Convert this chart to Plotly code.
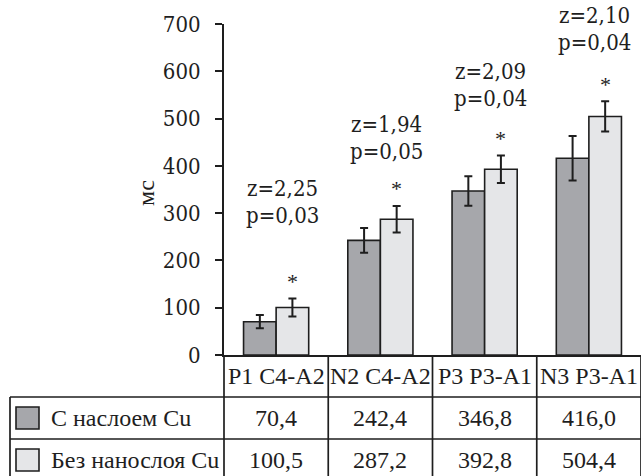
import plotly.graph_objects as go

# --- data -------------------------------------------------------------
categories = ["P1 C4-A2", "N2 C4-A2", "P3 P3-A1", "N3 P3-A1"]
series_names = ["С наслоем Cu", "Без нанослоя Cu"]
with_layer = [70.4, 242.4, 346.8, 416.0]
with_layer_err = [14, 26, 31, 47]
without_layer = [100.5, 287.2, 392.8, 504.4]
without_layer_err = [19, 28, 29, 32]
z_values = [2.25, 1.94, 2.09, 2.10]
p_values = [0.03, 0.05, 0.04, 0.04]
y_ticks = [0, 100, 200, 300, 400, 500, 600, 700]
y_title = "мс"

# --- styling / layout constants --------------------------------------
W, H = 641, 476
L, R, T, B = 224, 0, 24, 121
PW, PH = W - L - R, H - T - B
Y_MAX = 700
INK = "#1e1e1e"
DARK = "#a6a7ab"
LIGHT = "#e5e6e8"
SERIF = "Liberation Serif"
WIDE_SERIF = "DejaVu Serif Condensed"
BARGAP = 0.375
ROW_H = 42
TABLE_LEFT = 10
note_heights = [353, 488, 599, 717]   # y (axis units) of the z= line per group
note_gap = 57                          # distance from z= line to p= line


def fx(px):
    """pixel x -> paper x"""
    return (px - L) / PW


def fy(py):
    """pixel y -> paper y"""
    return (H - B - py) / PH


def comma(v, nd):
    return f"{v:.{nd}f}".replace(".", ",")


n = len(categories)
xs = list(range(n))

fig = go.Figure()
for name, vals, errs, col in [
    (series_names[0], with_layer, with_layer_err, DARK),
    (series_names[1], without_layer, without_layer_err, LIGHT),
]:
    fig.add_trace(go.Bar(
        x=xs, y=vals, name=name,
        marker=dict(color=col, line=dict(color=INK, width=1.6)),
        error_y=dict(type="data", array=errs, visible=True,
                     color=INK, thickness=2, width=4),
    ))

# statistics above each group and significance marks above light bars
bar_w = (1 - BARGAP) / 2
for i in range(n):
    for text, h in ((f"z={comma(z_values[i], 2)}", note_heights[i]),
                    (f"p={comma(p_values[i], 2)}", note_heights[i] - note_gap)):
        fig.add_annotation(
            x=i, y=h / Y_MAX, xref="x", yref="paper", xshift=6,
            text=text, showarrow=False,
            font=dict(family=WIDE_SERIF, size=22, color=INK),
            xanchor="center", yanchor="middle")
    fig.add_annotation(
        x=i + bar_w / 2, y=without_layer[i] + without_layer_err[i],
        xref="x", yref="y", yshift=17,
        text="*", showarrow=False,
        font=dict(family=SERIF, size=22, color=INK),
        xanchor="center", yanchor="middle")

# y-axis title
fig.add_annotation(
    x=fx(146), y=fy(193), xref="paper", yref="paper", text=y_title,
    textangle=-90, showarrow=False, xanchor="center", yanchor="middle",
    font=dict(family=SERIF, size=24, color=INK))

# --- data table below the chart --------------------------------------
top = H - B
line = dict(color=INK, width=1.7)
col_edges = [fx(L) + i / n for i in range(n + 1)]
table_bottom = fy(top + 3 * ROW_H + 6)

# vertical borders of the category columns
for cx in col_edges:
    fig.add_shape(type="line", xref="paper", yref="paper",
                  x0=cx, x1=cx, y0=0, y1=table_bottom, line=line)
# left border of the series rows
fig.add_shape(type="line", xref="paper", yref="paper",
              x0=fx(TABLE_LEFT), x1=fx(TABLE_LEFT),
              y0=fy(top + ROW_H), y1=table_bottom, line=line)
# horizontal borders
for k in (1, 2):
    yk = fy(top + k * ROW_H)
    fig.add_shape(type="line", xref="paper", yref="paper",
                  x0=fx(TABLE_LEFT), x1=1, y0=yk, y1=yk, line=line)

# header: category names
for i, c in enumerate(categories):
    fig.add_annotation(
        x=i, y=fy(top + ROW_H / 2), xref="x", yref="paper", text=c,
        showarrow=False, xanchor="center", yanchor="middle",
        font=dict(family=SERIF, size=24, color=INK))

# series rows
rows = [(series_names[0], with_layer, DARK),
        (series_names[1], without_layer, LIGHT)]
for r, (name, vals, col) in enumerate(rows):
    cy = top + ROW_H * (r + 1) + ROW_H / 2
    fig.add_shape(type="rect", xref="paper", yref="paper",
                  x0=fx(16), x1=fx(39), y0=fy(cy - 11), y1=fy(cy + 11),
                  fillcolor=col, line=dict(color=INK, width=1.6))
    fig.add_annotation(
        x=fx(49), y=fy(cy), xref="paper", yref="paper", text=name,
        showarrow=False, xanchor="left", yanchor="middle",
        font=dict(family=SERIF, size=24, color=INK))
    for i, v in enumerate(vals):
        fig.add_annotation(
            x=i, y=fy(cy), xref="x", yref="paper", text=comma(v, 1),
            showarrow=False, xanchor="center", yanchor="middle",
            font=dict(family=SERIF, size=24, color=INK))

fig.update_layout(
    width=W, height=H,
    margin=dict(l=L, r=R, t=T, b=B, pad=0),
    paper_bgcolor="white", plot_bgcolor="white",
    barmode="group", bargap=BARGAP, bargroupgap=0,
    showlegend=False,
    xaxis=dict(range=[-0.5, n - 0.5], showticklabels=False, ticks="",
               showgrid=False, zeroline=False, showline=True,
               linecolor=INK, linewidth=2, fixedrange=True),
    yaxis=dict(range=[0, Y_MAX], tickvals=y_ticks, ticks="outside",
               ticklen=7, tickwidth=2, tickcolor=INK,
               showgrid=False, zeroline=False, showline=True,
               linecolor=INK, linewidth=2, automargin=False,
               ticklabelstandoff=10,
               tickfont=dict(family=WIDE_SERIF, size=22, color=INK)),
)

fig.write_html("out.html")
